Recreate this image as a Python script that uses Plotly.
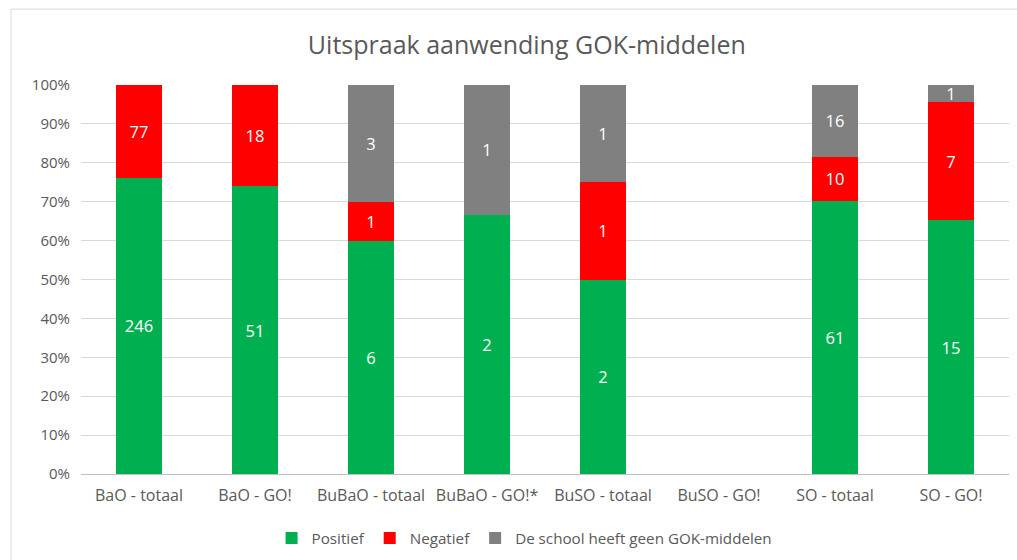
import plotly.graph_objects as go

categories = ["BaO - totaal", "BaO - GO!", "BuBaO - totaal", "BuBaO - GO!*",
              "BuSO - totaal", "BuSO - GO!", "SO - totaal", "SO - GO!"]
positief = [246, 51, 6, 2, 2, None, 61, 15]
negatief = [77, 18, 1, 0, 1, None, 10, 7]
geen = [0, 0, 3, 1, 1, None, 16, 1]
series = [("Positief", positief, "#00B050"),
          ("Negatief", negatief, "#FF0000"),
          ("De school heeft geen GOK-middelen", geen, "#808080")]

FONT = "Open Sans"
fig = go.Figure()
for name, vals, color in series:
    fig.add_trace(go.Bar(
        x=categories, y=vals, name=name,
        marker=dict(color=color, line=dict(width=0)),
        text=[str(v) if v else "" for v in vals],
        textposition="inside", insidetextanchor="middle",
        textangle=0, constraintext="none",
        textfont=dict(color="white", size=16.5, family=FONT),
    ))

fig.update_layout(
    barmode="stack", barnorm="percent", bargap=0.6,
    width=1017, height=560,
    margin=dict(l=81, r=8, t=85, b=86, autoexpand=False),
    paper_bgcolor="white", plot_bgcolor="white",
    font=dict(family=FONT, color="#595959", size=14),
    title=dict(text="Uitspraak aanwending GOK-middelen", x=0.518, xanchor="center",
               yref="container", y=1 - 45 / 560, yanchor="middle",
               font=dict(size=25, color="#595959", family=FONT)),
    legend=dict(orientation="h", x=0.478, xanchor="center",
                yref="container", y=(560 - 538) / 560, yanchor="middle",
                font=dict(size=15.2, color="#595959"), traceorder="normal",
                itemwidth=30),
    showlegend=True,
)
fig.update_yaxes(range=[0, 100], dtick=10, ticksuffix="%", showgrid=True,
                 gridcolor="#D9D9D9", gridwidth=1, zeroline=False, automargin=False,
                 tickfont=dict(size=15, color="#595959"), ticks="", ticklen=0,
                 ticklabelstandoff=10)
fig.update_xaxes(showline=True, linecolor="#BFBFBF", linewidth=1, automargin=False,
                 tickfont=dict(size=16, color="#595959"), ticks="",
                 ticklabelstandoff=7)
fig.add_shape(type="rect", xref="paper", yref="paper",
              x0=-0.0754, x1=1.02, y0=-0.25, y1=1.195,
              line=dict(color="#D9D9D9", width=1), fillcolor="rgba(0,0,0,0)",
              layer="below")
fig.write_html("out.html", config={"displayModeBar": False},
               post_script="document.body.style.margin='0';document.body.style.padding='0';")
